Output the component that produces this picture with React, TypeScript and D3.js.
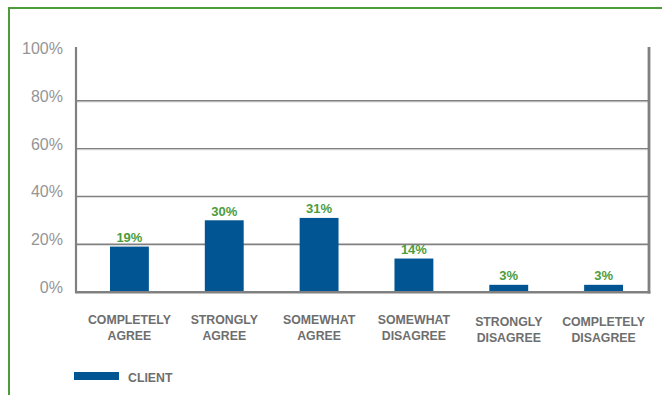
import React from "react";
import * as d3 from "d3";

const categories: string[][] = [
  ["COMPLETELY", "AGREE"],
  ["STRONGLY", "AGREE"],
  ["SOMEWHAT", "AGREE"],
  ["SOMEWHAT", "DISAGREE"],
  ["STRONGLY", "DISAGREE"],
  ["COMPLETELY", "DISAGREE"],
];
const clientValues: number[] = [19, 30, 31, 14, 3, 3];
const yTicks: number[] = [0, 20, 40, 60, 80, 100];
const gridTicks: number[] = [20, 40, 60, 80];
const seriesName = "CLIENT";

const W = 662;
const H = 395;
const green = "#4c9c3c";
const barColor = "#005592";
const axisColor = "#808080";
const font = "'Liberation Sans', Arial, sans-serif";

export default function App() {
  const left = 76;
  const right = 649;
  const top = 47;
  const y = d3.scaleLinear().domain([0, 100]).range([292, 53]);
  const x = d3
    .scaleBand<number>()
    .domain(d3.range(categories.length))
    .range([82, 651])
    .paddingInner(0.59)
    .paddingOuter(0.295);

  return (
    <svg
      width={W}
      height={H}
      style={{ position: "absolute", left: 0, top: 0, display: "block", background: "#fff" }}
    >
      {/* green frame */}
      <line x1={9} y1={8} x2={W} y2={8} stroke={green} strokeWidth={2} />
      <line x1={9} y1={7} x2={9} y2={H} stroke={green} strokeWidth={2} />

      {/* gridlines */}
      {gridTicks.map((t) => (
        <g key={t}>
          <line x1={left} x2={right} y1={y(t) + 1.2} y2={y(t) + 1.2} stroke="#dcdcdc" strokeWidth={1} />
          <line x1={left} x2={right} y1={y(t)} y2={y(t)} stroke={axisColor} strokeWidth={1.4} />
        </g>
      ))}

      {/* y tick labels */}
      {yTicks.map((t) => (
        <text
          key={t}
          x={63}
          y={y(t) + 1}
          textAnchor="end"
          fontFamily={font}
          fontSize={16}
          fill="#959595"
        >
          {t}%
        </text>
      ))}

      {/* bars */}
      {clientValues.map((v, i) => (
        <g key={i}>
          <rect
            x={x(i)}
            y={y(v)}
            width={x.bandwidth()}
            height={y(0) - y(v)}
            fill={barColor}
          />
          <text
            x={(x(i) as number) + x.bandwidth() / 2}
            y={y(v) - 4.5}
            textAnchor="middle"
            fontFamily={font}
            fontWeight="bold"
            fontSize={13}
            fill={green}
          >
            {v}%
          </text>
        </g>
      ))}

      {/* axes */}
      <line x1={left} x2={left} y1={top} y2={293} stroke={axisColor} strokeWidth={2.2} />
      <line x1={right} x2={right} y1={top} y2={293.5} stroke={axisColor} strokeWidth={2.8} />
      <line x1={left - 1} x2={right + 1.4} y1={292.2} y2={292.2} stroke={axisColor} strokeWidth={2.6} />

      {/* category labels */}
      {categories.map((lines, i) => {
        const cx = (x(i) as number) + x.bandwidth() / 2;
        const dy = i >= 4 ? 2 : 0;
        return (
          <text
            key={i}
            textAnchor="middle"
            fontFamily={font}
            fontWeight="bold"
            fontSize={12.3}
            fill="#6e6e6e"
          >
            {lines.map((l, j) => (
              <tspan key={j} x={cx} y={323.5 + dy + j * 16.5}>
                {l}
              </tspan>
            ))}
          </text>
        );
      })}

      {/* legend */}
      <rect x={74} y={372} width={45} height={8} fill={barColor} />
      <text x={128} y={381.5} fontFamily={font} fontWeight="bold" fontSize={12.3} fill="#6e6e6e">
        {seriesName}
      </text>
    </svg>
  );
}
